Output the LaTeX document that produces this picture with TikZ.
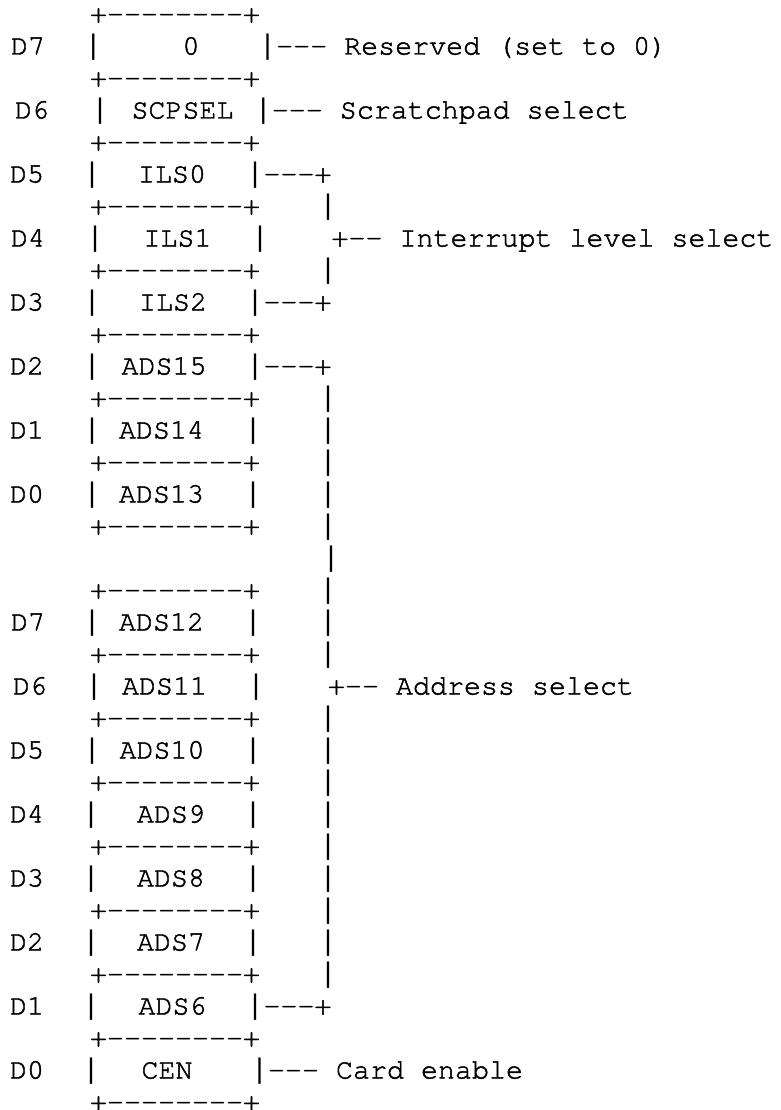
\documentclass[tikz,border=0pt]{standalone}
\usepackage{fontspec}
\newfontfamily\cursorfamily[FakeBold=1.6,Ligatures=NoCommon]{texgyrecursor-regular.otf}
\newfontfamily\barfamily{Liberation Mono}
\newcommand{\asciifont}{\cursorfamily\bfseries\fontsize{28.33}{32}\selectfont}
\newcommand{\barfont}{\barfamily\fontsize{28.33}{32}\selectfont}
% dashes kept apart so that no -- ligature is formed
\newcommand{\dsh}{-{}}
\begin{document}
\begin{tikzpicture}[x=1pt,y=-1pt,
  txt/.style={font=\asciifont, inner sep=0pt, outer sep=0pt, anchor=base},
  bar/.style={font=\barfont, inner sep=0pt, outer sep=0pt, anchor=base},
  tail/.style={txt, anchor=base west}]
\useasboundingbox (0,0) rectangle (780,1110);

% register cell borders, one on every even text line
\foreach \k in {0,2,...,34}
  \node[txt] (border\k) at (175,{22.5+32*\k}) {+\dsh\dsh\dsh\dsh\dsh\dsh\dsh\dsh+};

% bit rows: line / bit label / label x / left bar x / field / field x / right bar x
\foreach \k/\lab/\lx/\lb/\cell/\cx/\rb in {
   1/D7/28/93.3/0/191/267.7,
   3/D6/32/100/SCPSEL/182.5/263.3,
   5/D5/27/92/ILS0/172/255,
   7/D4/28/95/ILS1/177.5/260,
   9/D3/27/92/ILS2/173/255,
  11/D2/27/92/ADS15/164/255,
  13/D1/27/92/ADS14/161.5/253,
  15/D0/27/92/ADS13/161.5/253,
  19/D7/28/92/ADS12/161.5/253,
  21/D6/30/94/ADS11/164.5/256,
  23/D5/27/92/ADS10/162/253,
  25/D4/27/91/ADS9/171/253,
  27/D3/27/91/ADS8/171/253,
  29/D2/27/91/ADS7/171/253,
  31/D1/27/91/ADS6/172.5/255,
  33/D0/27/91/CEN/167/259.5}{
  \node[txt] (bit\k)   at (\lx,{22.5+32*\k}) {\lab};
  \node[bar] (lbar\k)  at (\lb,{22.5+32*\k}) {|};
  \node[txt] (field\k) at (\cx,{22.5+32*\k}) {\cell};
  \node[bar] (rbar\k)  at (\rb,{22.5+32*\k}) {|};
}

% leads from single fields and from the ends of the grouped fields
\node[tail] (lead1)  at (276.2,{22.5+32*1})  {\dsh\dsh\dsh{} Reserved (set to 0)};
\node[tail] (lead3)  at (271.8,{22.5+32*3})  {\dsh\dsh\dsh{} Scratchpad select};
\node[tail] (lead5)  at (263.5,{22.5+32*5})  {\dsh\dsh\dsh+};
\node[tail] (lead9)  at (263.5,{22.5+32*9})  {\dsh\dsh\dsh+};
\node[tail] (lead11) at (263.5,{22.5+32*11}) {\dsh\dsh\dsh+};
\node[tail] (lead31) at (263.5,{22.5+32*31}) {\dsh\dsh\dsh+};
\node[tail] (lead33) at (268,{22.5+32*33})   {\dsh\dsh\dsh{} Card enable};

% group brackets
\foreach \k in {6,8,12,13,14,15,16,18,19,20,22,23,24,25,26,27,28,29,30}
  \node[bar] (vbar\k) at (328,{22.5+32*\k}) {|};
\node[bar] (vbar17) at (331,{22.5+32*17}) {|};
\node[tail] (grp7)  at (331.5,{22.5+32*7})  {+\dsh\dsh{} Interrupt level select};
\node[tail] (grp21) at (328,{22.5+32*21}) {+\dsh\dsh{} Address select};
\end{tikzpicture}
\end{document}
